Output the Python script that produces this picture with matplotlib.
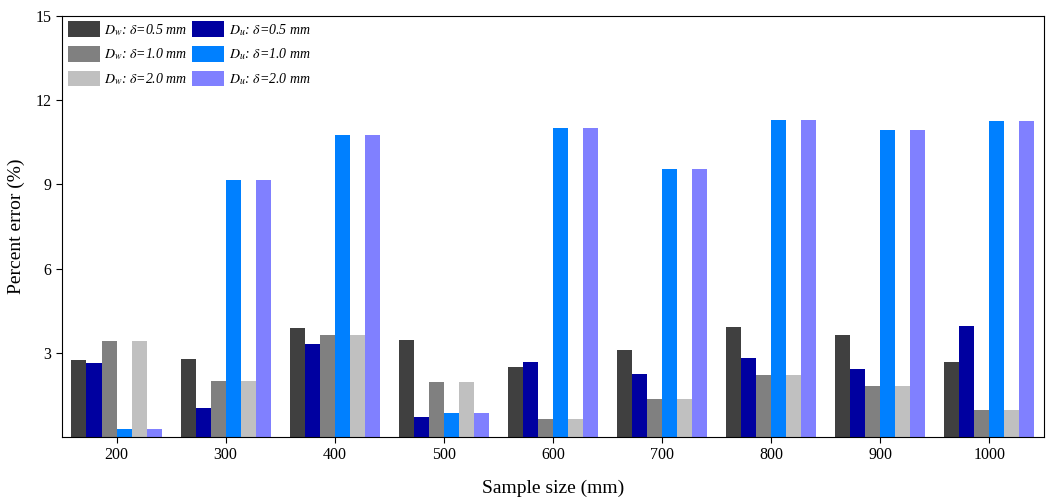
import numpy as np
import matplotlib
matplotlib.use("Agg")
import matplotlib.pyplot as plt

plt.rcParams['font.family'] = ['Liberation Serif', 'DejaVu Serif']
plt.rcParams['mathtext.fontset'] = 'stix'

sizes = [200, 300, 400, 500, 600, 700, 800, 900, 1000]

# percent errors
dw_05 = [2.75, 2.79, 3.88, 3.46, 2.49, 3.10, 3.92, 3.64, 2.68]
du_05 = [2.65, 1.05, 3.32, 0.71, 2.68, 2.25, 2.82, 2.43, 3.94]
dw_10 = [3.43, 2.00, 3.62, 1.96, 0.63, 1.36, 2.21, 1.81, 0.96]
du_10 = [0.29, 9.14, 10.75, 0.86, 11.00, 9.54, 11.29, 10.93, 11.24]
dw_20 = [3.43, 2.00, 3.62, 1.96, 0.63, 1.36, 2.21, 1.81, 0.96]
du_20 = [0.29, 9.14, 10.75, 0.86, 11.00, 9.54, 11.29, 10.93, 11.24]

series = [
    (dw_05, '#404040', r'$D_w$: $\delta$=0.5 mm'),
    (du_05, '#0000A0', r'$D_u$: $\delta$=0.5 mm'),
    (dw_10, '#808080', r'$D_w$: $\delta$=1.0 mm'),
    (du_10, '#0080FF', r'$D_u$: $\delta$=1.0 mm'),
    (dw_20, '#C0C0C0', r'$D_w$: $\delta$=2.0 mm'),
    (du_20, '#8080FF', r'$D_u$: $\delta$=2.0 mm'),
]

fig = plt.figure(figsize=(10.48, 4.98), dpi=100)
ax = fig.add_axes([0.0592, 0.1225, 0.9368, 0.8455])

x = np.array(sizes, dtype=float)
w = 13.8
handles = {}
for i, (vals, col, lab) in enumerate(series):
    off = (i - 2.5) * w
    b = ax.bar(x + off, vals, width=w, color=col, label=lab)
    handles[i] = b

ax.set_xlim(150, 1050)
ax.set_ylim(0, 15)
ax.set_xticks(sizes)
ax.set_yticks([3, 6, 9, 12, 15])
ax.tick_params(labelsize=11.5, direction='out', length=4)
ax.set_xlabel('Sample size (mm)', fontsize=14, labelpad=12)
ax.set_ylabel('Percent error (%)', fontsize=14, labelpad=8)

# legend column-major: Dw on the left, Du on the right
order = [0, 2, 4, 1, 3, 5]
leg = ax.legend([handles[i] for i in order], [series[i][2] for i in order],
                ncol=2, loc='upper left', frameon=False,
                prop={'style': 'italic', 'size': 10},
                handlelength=2.3, handleheight=1.35, columnspacing=0.3,
                handletextpad=0.35, labelspacing=0.6,
                borderaxespad=0.05, borderpad=0.35)

fig.savefig('out.png', dpi=100)
